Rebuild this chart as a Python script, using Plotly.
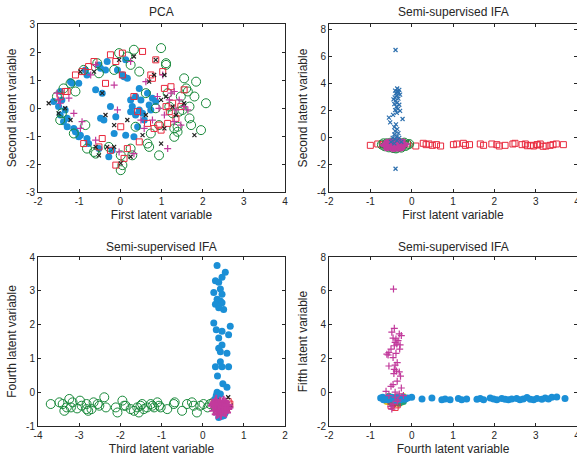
import plotly.graph_objects as go

# ---------------- Panel 1: PCA (first vs second latent variable) ----------------
pca_blue_x = [-1.62,-1.46,-1.42,-1.46,-1.38,-1.29,-1.21,-1.17,-1.13,-1.09,-1.01,-0.97,-0.85,-0.81,-0.81,-0.77,-0.60,-0.52,-0.52,-0.48,-0.48,-0.44,-0.40,-0.36,-0.32,-0.28,-0.24,-0.20,-0.15,-0.11,-0.07,0.05,0.09,0.13,0.17,0.13,0.25,0.25,0.29,0.33,0.37,0.37,0.42,0.46,0.46,0.50,0.54,0.58,0.66,0.70,0.78,0.74,0.86,-1.29,-1.50,-1.34,-1.01]
pca_blue_y = [0.23,0.59,0.29,-0.25,-0.49,-0.67,0.94,0.88,-0.73,-0.85,-1.03,-0.97,1.36,1.18,-1.09,-1.27,0.65,1.54,-1.45,1.42,-0.37,0.53,-0.43,1.36,1.66,-1.74,0.05,-1.51,-0.91,-0.31,1.36,1.18,1.12,1.72,1.06,-0.97,0.29,-0.13,0.05,-1.03,0.41,-0.25,-0.67,0.70,-0.07,0.29,-0.19,-0.43,0.53,0.11,0.35,-0.07,0.23,-0.37,0.05,-0.07,0.88]

pca_green_x = [-1.54,-1.42,-1.46,-1.38,-1.21,-1.09,-1.13,-0.89,-0.85,-0.81,-0.64,-0.60,-0.56,-0.52,-0.28,-0.15,-0.03,0.01,0.01,0.05,0.17,0.25,0.29,0.25,0.33,0.37,0.46,0.62,0.66,0.70,0.74,0.86,0.94,0.99,1.11,1.11,1.15,1.19,1.27,1.31,1.31,1.39,1.39,1.43,1.47,1.51,1.55,1.60,1.64,1.68,1.68,1.72,1.80,1.84,1.96,2.08,0.94]
pca_green_y = [0.41,-0.19,-0.43,0.70,0.88,0.59,-0.91,1.36,-0.61,-1.45,-1.57,-1.63,1.60,1.24,-1.39,1.36,1.96,-1.69,-2.22,-2.04,1.84,1.54,-1.69,-1.45,2.08,-0.67,1.30,0.53,-1.27,-1.39,-0.91,-0.01,-1.69,2.14,1.60,1.54,0.53,0.05,-0.19,-0.73,-1.03,-0.67,-0.85,-0.13,0.41,-0.07,1.06,0.70,0.59,-0.37,0.05,-0.61,0.41,0.94,-0.79,0.17,-0.61]

pca_red_x = [-1.46,-1.34,-1.29,-1.09,-0.93,-0.89,-0.77,-0.64,-0.52,-0.44,-0.36,-0.24,-0.24,-0.11,-0.11,0.01,0.05,0.05,0.09,0.17,0.33,0.46,0.54,0.74,0.78,0.82,0.86,0.94,0.99,1.03,1.07,1.11,1.15,1.19,1.23,1.27,1.35,1.47,1.55,0.66,0.42]
pca_red_y = [0.41,0.59,0.59,1.18,1.30,-1.27,1.48,1.66,-1.39,-1.09,0.88,1.90,-1.51,1.66,-2.04,-0.67,1.96,1.18,-1.80,-1.45,0.41,-1.21,2.02,1.18,1.06,-0.73,1.72,-0.61,-0.79,1.30,0.70,0.05,-0.55,-0.13,0.76,0.17,-0.37,0.05,0.65,-0.55,-0.13]

pca_mag_x = [-1.54,-1.50,-1.46,-1.25,-1.13,-0.97,-0.93,-0.72,-0.60,-0.60,-0.15,-0.07,-0.03,0.25,0.33,0.58,0.62,0.78,0.90,0.94,1.03,1.07,1.15,1.19,1.23,1.31,1.31,1.43,1.47,1.55,1.64,1.35,0.50]
pca_mag_y = [0.53,0.29,0.17,0.35,-0.19,-0.73,-0.49,1.18,1.54,-1.15,0.82,-0.07,-1.57,1.66,-1.63,-0.73,0.94,-0.43,0.41,-0.01,1.18,-0.25,-1.45,0.29,0.53,0.59,-0.49,0.29,-0.61,0.05,-0.07,-0.07,-0.43]

pca_black_x = [-1.74,-1.50,-1.34,-1.21,-0.97,-0.64,-0.60,-0.52,-0.44,-0.36,-0.32,-0.15,-0.15,-0.03,0.01,0.17,0.25,0.33,0.54,0.70,0.82,0.86,0.99,0.99,1.07,1.11,1.27,1.35,1.55,1.80,1.07,0.62]
pca_black_y = [0.17,-0.19,-0.01,-0.43,1.30,1.30,-1.39,-1.69,0.53,-0.25,-1.39,-1.39,-0.61,1.72,-1.98,-0.43,-1.74,1.84,-0.97,0.94,1.18,1.72,0.29,-1.27,-0.73,0.41,0.05,-0.25,0.17,-0.97,1.18,-0.25]

# ---------------- Panel 2: IFA (first vs second latent variable) ----------------
ifa1_red_x = [-1.00,-0.82,-0.70,-0.10,0.10,0.28,0.35,0.42,0.50,0.60,0.70,1.01,1.09,1.25,1.30,1.40,1.66,1.74,1.94,2.06,2.12,2.26,2.45,2.50,2.67,2.75,2.87,2.95,3.03,3.11,3.25,3.35,3.42,3.50,3.67,2.80,3.05,3.18]
ifa1_red_y = [-0.55,-0.45,-0.50,-0.45,-0.60,-0.40,-0.50,-0.45,-0.55,-0.50,-0.60,-0.50,-0.45,-0.40,-0.55,-0.50,-0.45,-0.55,-0.45,-0.50,-0.60,-0.55,-0.45,-0.40,-0.50,-0.45,-0.55,-0.60,-0.50,-0.45,-0.60,-0.55,-0.50,-0.45,-0.50,-0.58,-0.52,-0.62]

ifa1_green_x = [-0.72,-0.65,-0.60,-0.55,-0.50,-0.45,-0.40,-0.35,-0.30,-0.25,-0.20,-0.15,-0.10,-0.06,-0.62,-0.48,-0.38,-0.28,-0.18,-0.55,-0.42,-0.32,-0.68,-0.22]
ifa1_green_y = [-0.50,-0.62,-0.40,-0.70,-0.35,-0.75,-0.45,-0.72,-0.38,-0.72,-0.42,-0.60,-0.50,-0.45,-0.55,-0.60,-0.78,-0.65,-0.35,-0.50,-0.62,-0.50,-0.40,-0.55]

ifa1_bluefill_x = [-0.60,-0.50,-0.40,-0.30,-0.20,-0.55,-0.45,-0.35,-0.25]
ifa1_bluefill_y = [-0.50,-0.60,-0.45,-0.55,-0.50,-0.40,-0.70,-0.65,-0.40]

ifa1_mag_x = [-0.64,-0.60,-0.56,-0.52,-0.50,-0.48,-0.46,-0.44,-0.42,-0.40,-0.38,-0.36,-0.34,-0.32,-0.30,-0.28,-0.26,-0.24,-0.22,-0.20,-0.17,-0.60,-0.54,-0.49,-0.43,-0.37,-0.33,-0.27,-0.23,-0.57,-0.47,-0.41,-0.35,-0.29,-0.25,-0.45,-0.39,-0.31,-0.51,-0.21,-0.62,-0.58,-0.53,-0.46,-0.40,-0.34,-0.28,-0.22,-0.19,-0.66]
ifa1_mag_y = [-0.50,-0.42,-0.60,-0.48,-0.38,-0.65,-0.52,-0.42,-0.60,-0.48,-0.38,-0.62,-0.52,-0.44,-0.58,-0.46,-0.40,-0.55,-0.48,-0.52,-0.45,-0.58,-0.52,-0.55,-0.36,-0.55,-0.66,-0.50,-0.42,-0.46,-0.45,-0.68,-0.45,-0.38,-0.62,-0.58,-0.50,-0.55,-0.62,-0.58,-0.62,-0.55,-0.40,-0.70,-0.62,-0.36,-0.64,-0.60,-0.42,-0.55]

ifa1_bluex_x = [-0.39,-0.39,-0.35,-0.30,-0.40,-0.33,-0.38,-0.28,-0.36,-0.41,-0.32,-0.39,-0.35,-0.42,-0.30,-0.37,-0.33,-0.40,-0.28,-0.36,-0.45,-0.55,-0.22,-0.52,-0.38,-0.42,-0.35,-0.40,-0.32,-0.42,-0.36,-0.46,-0.30,-0.40,-0.35,-0.50,-0.25,-0.42,-0.34,-0.31,-0.44]
ifa1_bluex_y = [6.50,-2.28,3.65,3.55,3.50,3.40,3.30,3.20,3.10,3.00,2.90,2.75,2.60,2.50,2.45,2.30,2.15,2.05,2.00,1.85,1.70,1.50,1.40,1.15,1.00,0.80,0.65,0.50,0.35,0.25,0.10,0.00,0.00,-0.10,-0.20,-0.30,-0.30,-0.40,3.45,3.35,2.85]

# ---------------- Panel 3: IFA (third vs fourth latent variable) ----------------
ifa3_green_x = [-3.69,-3.48,-3.40,-3.36,-3.30,-3.24,-3.20,-3.16,-2.98,-2.94,-2.82,-2.82,-2.78,-2.70,-2.55,-2.51,-2.39,-2.35,-2.11,-2.07,-1.95,-1.91,-1.87,-1.75,-1.67,-1.59,-1.55,-1.51,-1.47,-1.43,-1.26,-1.22,-1.18,-1.10,-1.06,-1.02,-0.86,-0.70,-0.68,-0.50,-0.38,-0.26,-0.22,-0.14,-0.06,0.02,0.18,0.26,0.12,-3.05,-2.65,-1.35]
ifa3_green_y = [-0.35,-0.30,-0.35,-0.55,-0.45,-0.20,-0.45,-0.30,-0.25,-0.40,-0.35,-0.50,-0.55,-0.50,-0.35,-0.40,-0.15,-0.45,-0.45,-0.60,-0.25,-0.40,-0.40,-0.50,-0.55,-0.45,-0.60,-0.40,-0.35,-0.50,-0.35,-0.40,-0.45,-0.30,-0.40,-0.45,-0.50,-0.35,-0.30,-0.55,-0.35,-0.30,-0.40,-0.60,-0.40,-0.35,-0.35,-0.30,-0.45,-0.48,-0.30,-0.45]

ifa3_red_x = [0.28,0.62,0.66,0.58,0.35,0.50]
ifa3_red_y = [-0.30,-0.28,-0.35,-0.52,-0.22,-0.60]

ifa3_black_x = [0.62,0.30,0.55,0.40,0.68,0.25]
ifa3_black_y = [-0.15,-0.55,-0.65,-0.20,-0.40,-0.35]

ifa3_blue_x = [0.35,0.55,0.47,0.31,0.39,0.27,0.43,0.47,0.35,0.43,0.31,0.47,0.39,0.51,0.27,0.67,0.33,0.47,0.39,0.63,0.47,0.39,0.43,0.59,0.31,0.43,0.47,0.63,0.36,0.49,0.59,0.35,0.43,0.39,0.51,0.40,0.33,0.55,0.45,0.30]
ifa3_blue_y = [3.75,3.55,3.40,3.30,3.25,2.95,3.05,2.90,2.75,2.70,2.60,2.65,2.50,2.45,2.05,1.95,1.85,1.80,1.60,1.70,1.40,1.30,1.20,1.15,0.75,0.90,0.75,0.75,0.48,0.25,0.15,0.00,-0.05,-0.75,-0.70,-0.65,-0.10,-0.60,-0.72,-0.20]

ifa3_mag_x = [0.25,0.30,0.35,0.40,0.45,0.50,0.55,0.60,0.28,0.33,0.38,0.43,0.48,0.53,0.58,0.63,0.30,0.36,0.42,0.47,0.52,0.57,0.34,0.40,0.46,0.51,0.56,0.38,0.44,0.49,0.27,0.61]
ifa3_mag_y = [-0.40,-0.30,-0.50,-0.35,-0.60,-0.42,-0.30,-0.50,-0.55,-0.22,-0.62,-0.48,-0.30,-0.58,-0.40,-0.45,-0.45,-0.40,-0.28,-0.52,-0.38,-0.60,-0.65,-0.55,-0.42,-0.25,-0.50,-0.35,-0.68,-0.45,-0.35,-0.38]

# ---------------- Panel 4: IFA (fourth vs fifth latent variable) ----------------
ifa4_yellow_x = [-0.60,-0.50,-0.40,-0.30,-0.20,-0.55,-0.35,-0.25]
ifa4_yellow_y = [-0.55,-0.60,-0.30,-0.55,-0.25,-0.25,-0.65,-0.60]

ifa4_teal_x = [-0.65,-0.50,-0.45,-0.30,-0.20,-0.40,-0.55]
ifa4_teal_y = [-0.45,-0.60,-0.70,-0.65,-0.55,-0.55,-0.25]

ifa4_red_x = [-0.50,-0.45,-0.35,-0.40]
ifa4_red_y = [-0.80,-0.65,-0.75,-0.90]

ifa4_blue_x = [-0.75,-0.70,-0.65,-0.60,-0.55,-0.50,-0.45,-0.40,-0.35,-0.30,-0.25,-0.20,-0.15,-0.10,-0.68,-0.58,-0.48,-0.38,-0.28,-0.18,0.00,0.25,0.49,0.73,0.81,0.93,1.13,1.21,1.33,1.58,1.66,1.74,1.90,1.98,2.06,2.18,2.26,2.34,2.42,2.54,2.62,2.70,2.79,2.87,2.95,3.03,3.15,3.23,3.31,3.39,3.51,3.71]
ifa4_blue_y = [-0.35,-0.30,-0.40,-0.35,-0.30,-0.40,-0.35,-0.45,-0.30,-0.40,-0.35,-0.30,-0.40,-0.35,-0.45,-0.45,-0.30,-0.50,-0.45,-0.40,-0.30,-0.40,-0.35,-0.45,-0.40,-0.45,-0.38,-0.45,-0.40,-0.42,-0.38,-0.45,-0.35,-0.40,-0.45,-0.38,-0.42,-0.45,-0.40,-0.38,-0.45,-0.40,-0.32,-0.42,-0.45,-0.38,-0.42,-0.35,-0.40,-0.30,-0.28,-0.38]

ifa4_mag_x = [-0.44,-0.42,-0.48,-0.30,-0.25,-0.45,-0.38,-0.33,-0.40,-0.36,-0.42,-0.28,-0.50,-0.29,-0.55,-0.60,-0.57,-0.38,-0.45,-0.35,-0.40,-0.55,-0.42,-0.37,-0.30,-0.43,-0.27,-0.35,-0.45,-0.50,-0.25,-0.40,-0.30,-0.55,-0.35,-0.45,-0.50,-0.48,-0.40,-0.62,-0.20,-0.33]
ifa4_mag_y = [6.10,3.78,3.55,3.45,3.35,3.20,3.15,3.05,2.95,2.85,2.75,2.80,2.55,2.55,2.35,2.25,2.20,2.30,2.05,1.75,1.60,1.55,1.35,1.25,1.20,1.10,0.95,0.65,0.45,0.35,0.25,0.00,-0.10,-0.20,-0.55,-0.70,-0.85,-1.00,-0.30,0.05,-0.20,-0.45]

# ---------------- axis ticks ----------------
ticks_m2_4 = [-2, -1, 0, 1, 2, 3, 4]
ticks_m4_2 = [-4, -3, -2, -1, 0, 1, 2]
ticks_m3_3 = [-3, -2, -1, 0, 1, 2, 3]
ticks_m4_8 = [-4, -2, 0, 2, 4, 6, 8]
ticks_m1_4 = [-1, 0, 1, 2, 3, 4]
ticks_m2_8 = [-2, 0, 2, 4, 6, 8]

titles = ["PCA", "Semi-supervised IFA", "Semi-supervised IFA", "Semi-supervised IFA"]
xlabels = ["First latent variable", "First latent variable", "Third latent variable", "Fourth latent variable"]
ylabels = ["Second latent variable", "Second latent variable", "Fourth latent variable", "Fifth latent variable"]

BLUE = "#1b8fd6"
GREEN = "#18893a"
RED = "#e8283c"
MAG = "#c23a9c"
BLACK = "#222222"
BLUEX = "#2c6fae"
YELLOW = "#e4c41c"
TEAL = "#1fa07a"

fig = go.Figure()

def add(x, y, ax, kind, color, size, lw=1.2):
    if kind == "fill":
        m = dict(symbol="circle", color=color, size=size, line=dict(width=0))
    elif kind == "ocircle":
        m = dict(symbol="circle-open", color=color, size=size, line=dict(width=1, color=color))
    elif kind == "osquare":
        m = dict(symbol="square-open", color=color, size=size, line=dict(width=1, color=color))
    elif kind == "plus":
        m = dict(symbol="cross-thin-open", color=color, size=size, line=dict(width=lw, color=color))
    else:
        m = dict(symbol="x-thin-open", color=color, size=size, line=dict(width=lw, color=color))
    sfx = "" if ax == 1 else str(ax)
    fig.add_trace(go.Scatter(x=x, y=y, mode="markers", marker=m,
                             xaxis="x" + sfx, yaxis="y" + sfx,
                             showlegend=False, hoverinfo="skip"))

# panel 1
add(pca_blue_x, pca_blue_y, 1, "fill", BLUE, 7)
add(pca_green_x, pca_green_y, 1, "ocircle", GREEN, 9)
add(pca_red_x, pca_red_y, 1, "osquare", RED, 6)
add(pca_mag_x, pca_mag_y, 1, "plus", MAG, 5)
add(pca_black_x, pca_black_y, 1, "x", BLACK, 4)
# panel 2
add(ifa1_red_x, ifa1_red_y, 2, "osquare", RED, 6)
add(ifa1_bluefill_x, ifa1_bluefill_y, 2, "fill", BLUE, 7)
add(ifa1_green_x, ifa1_green_y, 2, "ocircle", GREEN, 9)
add(ifa1_mag_x, ifa1_mag_y, 2, "plus", MAG, 7, 2)
add(ifa1_bluex_x, ifa1_bluex_y, 2, "x", BLUEX, 4)
# panel 3
add(ifa3_green_x, ifa3_green_y, 3, "ocircle", GREEN, 9)
add(ifa3_red_x, ifa3_red_y, 3, "osquare", RED, 6)
add(ifa3_black_x, ifa3_black_y, 3, "x", BLACK, 4)
add(ifa3_blue_x, ifa3_blue_y, 3, "fill", BLUE, 7)
add(ifa3_mag_x, ifa3_mag_y, 3, "plus", MAG, 7, 2)
# panel 4
add(ifa4_yellow_x, ifa4_yellow_y, 4, "fill", YELLOW, 7)
add(ifa4_teal_x, ifa4_teal_y, 4, "fill", TEAL, 7)
add(ifa4_red_x, ifa4_red_y, 4, "osquare", RED, 6)
add(ifa4_blue_x, ifa4_blue_y, 4, "fill", BLUE, 7)
add(ifa4_mag_x, ifa4_mag_y, 4, "plus", MAG, 5)

W, H = 577, 458
FONT = "Liberation Sans, Arial, sans-serif"
TXT = "#262626"

xdom_l = [38 / W, 285 / W]
xdom_r = [329 / W, 1.0]
ydom_t = [1 - 192 / H, 1 - 24 / H]
ydom_b = [1 - 426 / H, 1 - 257 / H]

def xaxis(dom, rng, tv, label, anchor):
    return dict(domain=dom, range=rng, tickvals=tv, ticktext=[str(v) for v in tv],
                ticks="inside", ticklen=3, tickcolor=TXT, showline=True, linecolor=TXT,
                linewidth=1, mirror="ticks", showgrid=False, zeroline=False, automargin=False,
                ticklabeloverflow="allow",
                tickfont=dict(size=10, color=TXT, family=FONT), anchor=anchor,
                title=dict(text=label, font=dict(size=12, color=TXT, family=FONT), standoff=4))

def yaxis(dom, rng, tv, label, anchor):
    return dict(domain=dom, range=rng, tickvals=tv, ticktext=[str(v) for v in tv],
                ticks="inside", ticklen=3, tickcolor=TXT, showline=True, linecolor=TXT,
                linewidth=1, mirror="ticks", showgrid=False, zeroline=False, automargin=False,
                ticklabeloverflow="allow",
                tickfont=dict(size=10, color=TXT, family=FONT), anchor=anchor,
                title=dict(text=label, font=dict(size=12, color=TXT, family=FONT), standoff=6))

fig.update_layout(
    width=W, height=H, margin=dict(l=0, r=0, t=0, b=0, autoexpand=False),
    paper_bgcolor="white", plot_bgcolor="white",
    font=dict(family=FONT, color=TXT),
    xaxis=xaxis(xdom_l, [-2, 4], ticks_m2_4, xlabels[0], "y"),
    yaxis=yaxis(ydom_t, [-3, 3], ticks_m3_3, ylabels[0], "x"),
    xaxis2=xaxis(xdom_r, [-2, 4], ticks_m2_4, xlabels[1], "y2"),
    yaxis2=yaxis(ydom_t, [-4, 8.42], ticks_m4_8, ylabels[1], "x2"),
    xaxis3=xaxis(xdom_l, [-4, 2], ticks_m4_2, xlabels[2], "y3"),
    yaxis3=yaxis(ydom_b, [-1, 4], ticks_m1_4, ylabels[2], "x3"),
    xaxis4=xaxis(xdom_r, [-2, 4], ticks_m2_4, xlabels[3], "y4"),
    yaxis4=yaxis(ydom_b, [-2, 8], ticks_m2_8, ylabels[3], "x4"),
)

title_pos = [((xdom_l[0] + xdom_l[1]) / 2, 1 - 12 / H),
             ((xdom_r[0] + xdom_r[1]) / 2, 1 - 12 / H),
             ((xdom_l[0] + xdom_l[1]) / 2, 1 - 247 / H),
             ((xdom_r[0] + xdom_r[1]) / 2, 1 - 247 / H)]
for t, (px, py) in zip(titles, title_pos):
    fig.add_annotation(text=t, x=px, y=py, xref="paper", yref="paper", showarrow=False,
                       xanchor="center", yanchor="middle",
                       font=dict(size=12, color=TXT, family=FONT))

fig.write_html("out.html", config={"displayModeBar": False},
               post_script="document.body.style.margin='0';document.body.style.overflow='hidden';")
